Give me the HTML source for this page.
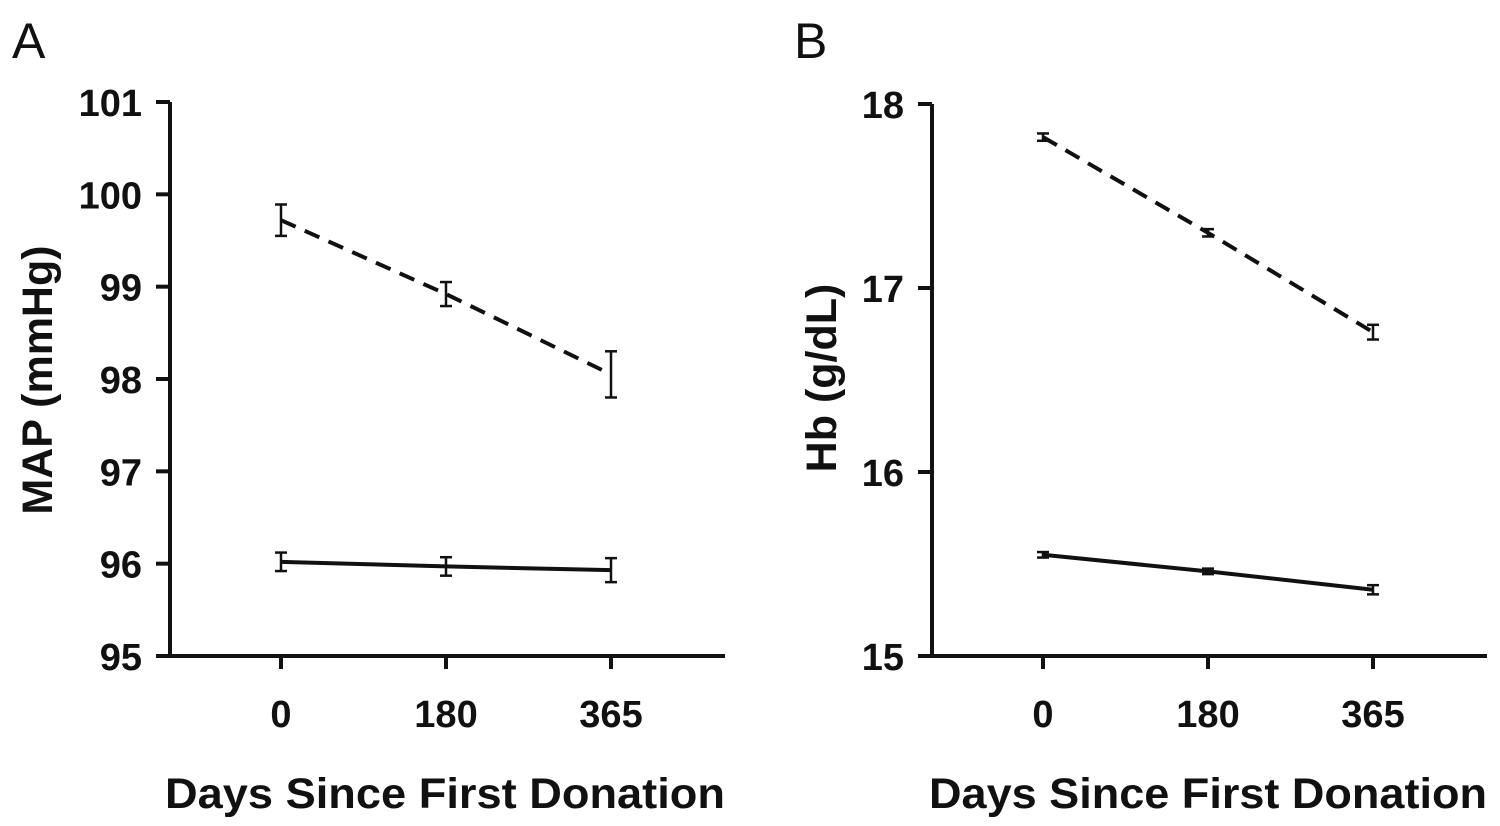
<!DOCTYPE html>
<html><head><meta charset="utf-8">
<style>
html,body{margin:0;padding:0;background:#fff;}
svg{display:block;font-family:"Liberation Sans",Arial,sans-serif;}
.t{font-size:38px;font-weight:bold;fill:#111;}
.ttl{font-size:43px;font-weight:bold;fill:#111;}
.pl{font-size:50px;fill:#111;}
</style></head>
<body>
<svg id="c" width="1500" height="826" viewBox="0 0 1500 826"></svg>
<script>
const categories=["0","180","365"];
const mapDashed=[99.72,98.92,98.05];
const mapDashedErr=[0.17,0.13,0.25];
const mapSolid=[96.02,95.97,95.93];
const mapSolidErr=[0.1,0.1,0.13];
const mapTicks=[95,96,97,98,99,100,101];
const hbDashed=[17.82,17.30,16.76];
const hbDashedErr=[0.02,0.02,0.04];
const hbSolid=[15.55,15.46,15.36];
const hbSolidErr=[0.015,0.015,0.025];
const hbTicks=[15,16,17,18];

const NS="http://www.w3.org/2000/svg";
const svg=document.getElementById('c');
function mk(tag,attrs,parent,text){const e=document.createElementNS(NS,tag);for(const k in attrs)e.setAttribute(k,attrs[k]);if(text!==undefined)e.textContent=text;(parent||svg).appendChild(e);return e;}

function panel(cfg){
  const g=mk('g',{});
  
  
  const y=v=>cfg.y0+(cfg.yMax-v)/(cfg.yMax-cfg.yMin)*(cfg.y1-cfg.y0);
  const x=i=>cfg.xs0+i*cfg.dx;
  const lbl=mk('text',{x:cfg.lx,y:58,class:'pl'},g,cfg.letter);
  
  
  const ya=mk('line',{x1:cfg.ax,y1:cfg.y0,x2:cfg.ax,y2:cfg.y1,stroke:'#111','stroke-width':4},g);
  
  
  const xa=mk('line',{x1:cfg.ax-2,y1:cfg.y1,x2:cfg.xEnd,y2:cfg.y1,stroke:'#111','stroke-width':4},g);
  
  
  cfg.ticks.forEach(t=>{
    mk('line',{x1:cfg.ax-14,y1:y(t),x2:cfg.ax,y2:y(t),stroke:'#111','stroke-width':4},g);
    const tl=mk('text',{x:cfg.ax-28,y:y(t)+14,class:'t','text-anchor':'end'},g,String(t));
    
    
  });
  categories.forEach((c,i)=>{
    mk('line',{x1:x(i),y1:cfg.y1,x2:x(i),y2:cfg.y1+13,stroke:'#111','stroke-width':4},g);
    const tl=mk('text',{x:x(i),y:727,class:'t','text-anchor':'middle'},g,c);
    
    
  });
  const xt=mk('text',{x:cfg.xTitleX,y:808,class:'ttl','text-anchor':'middle',textLength:cfg.xTitleW,lengthAdjust:'spacingAndGlyphs'},g,'Days Since First Donation');
  
  
  const ty=(cfg.y0+cfg.y1)/2;
  const yt=mk('text',{x:cfg.ytx,y:cfg.tyc,class:'ttl','text-anchor':'middle',transform:`rotate(-90 ${cfg.ytx} ${cfg.tyc})`},g,cfg.yTitle);
  
  
  [[cfg.dashed,cfg.dashedErr,'dashed'],[cfg.solid,cfg.solidErr,'solid']].forEach(([vals,errs,kind])=>{
    const pts=vals.map((v,i)=>x(i)+','+y(v)).join(' ');
    const pl=mk('polyline',{points:pts,fill:'none',stroke:'#111','stroke-width':4,'stroke-dasharray':kind==='dashed'?'16,10':'none'},g);
    
    
    vals.forEach((v,i)=>{
      const eg=mk('g',{stroke:'#111','stroke-width':2.5},g);
      
      
      const a=y(v+errs[i]),b=y(v-errs[i]);
      mk('line',{x1:x(i),y1:a,x2:x(i),y2:b},eg);
      mk('line',{x1:x(i)-6,y1:a,x2:x(i)+6,y2:a},eg);
      mk('line',{x1:x(i)-6,y1:b,x2:x(i)+6,y2:b},eg);
    });
  });
}
panel({name:'panel-a-map',letter:'A',lx:12,ax:170,y0:102,y1:656,yMin:95,yMax:101,xs0:281,dx:165,xEnd:725,
  ticks:mapTicks,dashed:mapDashed,dashedErr:mapDashedErr,solid:mapSolid,solidErr:mapSolidErr,
  yTitle:'MAP (mmHg)',ytx:52,tyc:380,xTitleX:445,xTitleW:560});
panel({name:'panel-b-hb',letter:'B',lx:794,ax:932,y0:104,y1:656,yMin:15,yMax:18,xs0:1043,dx:165,xEnd:1487,
  ticks:hbTicks,dashed:hbDashed,dashedErr:hbDashedErr,solid:hbSolid,solidErr:hbSolidErr,
  yTitle:'Hb (g/dL)',ytx:836,tyc:378,xTitleX:1208,xTitleW:558});
</script>
</body></html>
